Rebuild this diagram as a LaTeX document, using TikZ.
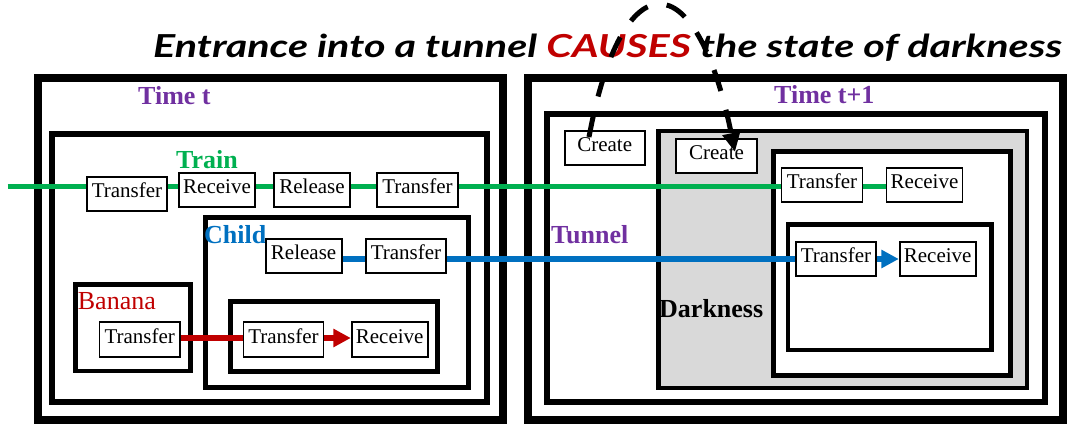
\documentclass[tikz,border=0pt]{standalone}
\usepackage{fontspec}
\setmainfont{Liberation Serif}
\newfontfamily\titlefont{Lato}
\usetikzlibrary{arrows.meta}
\definecolor{cgreen}{HTML}{00B050}
\definecolor{cblue}{HTML}{0070C0}
\definecolor{cpurple}{HTML}{7030A0}
\definecolor{cred}{HTML}{C00000}
\definecolor{cgray}{HTML}{D9D9D9}
\pgfdeclarelayer{back}
\pgfdeclarelayer{mid}
\pgfsetlayers{back,mid,main}
\begin{document}
\begin{tikzpicture}[x=1pt,y=-1pt,
  evt/.style={draw=black, line width=1.8pt, fill=white, minimum height=34pt,
    inner sep=0pt, font=\fontsize{21}{24}\selectfont, text height=14.3pt, text depth=7.3pt},
  wT/.style={minimum width=80pt},
  wR/.style={minimum width=76pt},
  lab/.style={anchor=base west, inner sep=0pt, font=\fontsize{26}{30}\selectfont\bfseries},
  outerbox/.style={draw=black, line width=8pt},
  midbox/.style={draw=black, line width=6pt},
  inbox/.style={draw=black, line width=5pt},
  greenline/.style={draw=cgreen, line width=5pt},
  blueline/.style={draw=cblue, line width=5.5pt},
  redline/.style={draw=cred, line width=6pt},
  tip/.style={-{Triangle[length=17.5pt,width=17.5pt]}},
  causal/.style={draw=black, line width=5pt, dash pattern=on 22pt off 19.5pt,
    -{Triangle[length=19pt,width=17pt]}}
]
\useasboundingbox (0,0) rectangle (1068,423);

% ---------- containers ----------
\begin{pgfonlayer}{back}
  \draw[outerbox] (38,77.5) rectangle (502.5,419.5);
  \draw[outerbox] (527.5,77.5) rectangle (1063,419.5);
  \draw[midbox] (52,134) rectangle (486.5,402);
  \draw[midbox] (546.5,114) rectangle (1045,402);
  \draw[inbox, line width=4.5pt, fill=cgray] (658.5,131) rectangle (1027,388);
  \draw[inbox, fill=white] (773.5,151) rectangle (1010.5,375);
  \draw[inbox, line width=4.5pt] (788,224.5) rectangle (991.5,350);
  \draw[inbox, line width=4.5pt] (75.5,284.5) rectangle (190.5,371);
  \draw[inbox] (205,217) rectangle (468,387);
  \draw[inbox] (230,301) rectangle (437.7,371);
\end{pgfonlayer}

% ---------- labels ----------
\node[lab, text=cpurple] (timet) at (138,104) {Time t};
\node[lab, text=cpurple] (timet1) at (774,103.5) {Time t+1};
\node[lab, text=cgreen] (train) at (176,168) {Train};
\node[lab, text=cblue] (child) at (204,243.5) {Child};
\node[lab, text=cpurple] (tunnel) at (551,243.5) {Tunnel};
\node[lab] (dark) at (659,317) {Darkness};
\node[lab, font=\fontsize{26}{30}\selectfont, text=cred] (banana) at (77.7,309) {Banana};

% ---------- events ----------
\node[evt, wT] (t1) at (127,194) {Transfer};
\node[evt, wR] (rc1) at (217,190) {Receive};
\node[evt, wR] (rl1) at (312,190) {Release};
\node[evt, minimum width=81pt] (t2) at (417.5,190) {Transfer};

\node[evt, wR] (crl) at (303.6,256) {Release};
\node[evt, wT] (ctr) at (406,256) {Transfer};

\node[evt, minimum width=80.5pt, minimum height=35pt] (bt) at (139.7,339.5) {Transfer};
\node[evt, wT, minimum height=35pt] (it) at (283.5,339.5) {Transfer};
\node[evt, wR, minimum height=35pt] (ir) at (389.7,339.5) {Receive};

\node[evt, wT] (cr1) at (604.7,148) {Create};
\node[evt, minimum width=81pt] (cr2) at (716.5,156) {Create};
\node[evt, minimum width=81pt] (rtr) at (822,185) {Transfer};
\node[evt, wR] (rrc) at (924.5,185) {Receive};
\node[evt, wT] (crtr) at (836,259) {Transfer};
\node[evt, wR] (crrc) at (937.7,259) {Receive};

% ---------- connectors ----------
\coordinate (gstart) at (7.5,186.5);
\begin{pgfonlayer}{mid}
  \draw[greenline] (gstart) -- (gstart -| rtr.west);
  \draw[greenline] (rtr.east |- gstart) -- (rrc.west |- gstart);
  \draw[blueline] (crl.east |- crtr.west) -- (crtr.west);
  \draw[redline] (bt.east |- 0,338) -- (it.west |- 0,338);
\end{pgfonlayer}
\draw[blueline, tip] (crtr.east) -- (crrc.west);
\draw[redline, tip] (it.east |- 0,338) -- (ir.west |- 0,338);

% ---------- title ----------
\node[anchor=base west, inner sep=0pt] (title) at (153,57.5)
  {\resizebox{909pt}{23.5pt}{\fontsize{32}{36}\titlefont\bfseries\itshape Entrance into a tunnel \textcolor{cred}{CAUSES} the state of darkness}};

% ---------- causal dashed arrow ----------
\coordinate (cs) at (589,137);
\coordinate (ce) at (735,152);
\draw[causal] (cs) .. controls (622,-40) and (696,-40) .. (ce);
\end{tikzpicture}
\end{document}
